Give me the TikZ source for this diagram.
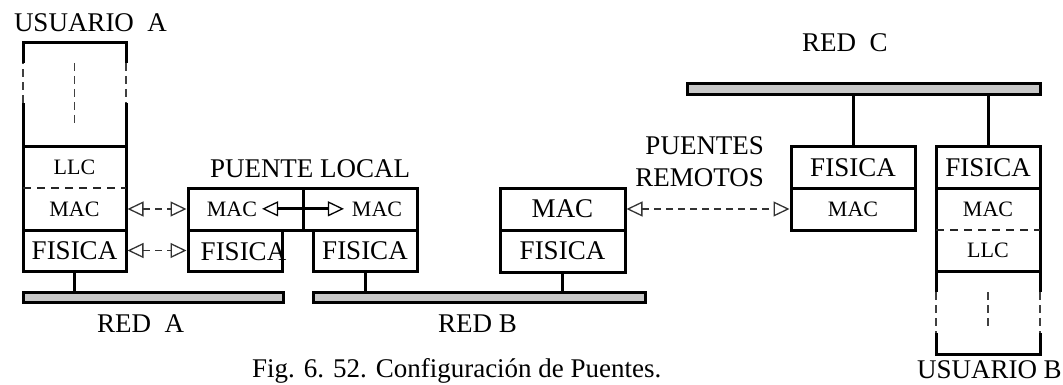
\documentclass[tikz,border=0pt]{standalone}
\usepackage{fontspec}
\setmainfont{Liberation Serif}
\usetikzlibrary{arrows.meta,calc}
\begin{document}
\begin{tikzpicture}[x=1pt,y=-1pt,
  fbig/.style={font=\fontsize{27}{32}\selectfont},
  fsmall/.style={font=\fontsize{22}{26}\selectfont},
  frameline/.style={line width=3pt},
  linkline/.style={line width=3pt},
  thinD/.style={line width=1.3pt, dash pattern=on 8pt off 5pt, black!75},
  sepD/.style={line width=1.4pt, dash pattern=on 8pt off 6pt, black!85},
  netbar/.style={draw, fill=black!22, line width=3pt, inner sep=0pt, outer sep=0pt},
  cell/.style={draw, line width=3pt, inner sep=0pt, outer sep=0pt},
  nd/.style={inner sep=0pt, outer sep=0pt},
  lbl/.style={inner sep=0pt, outer sep=0pt},
  dasharr/.style={line width=1.3pt, dash pattern=on 7pt off 5pt, black!80,
    {Triangle[open,length=16pt,width=15pt]}-{Triangle[open,length=16pt,width=15pt]},
    shorten <=1.5pt, shorten >=1.5pt},
  solidarr/.style={line width=3pt,
    {Triangle[open,length=16pt,width=15pt,line width=1.3pt]}-{Triangle[open,length=16pt,width=15pt,line width=1.3pt]}}
]
\useasboundingbox (0,0) rectangle (1063,385);

% ---------- User A ----------
\node[nd, minimum width=103, minimum height=104] (aApp) at (74.5,95) {};
\node[nd, fsmall, minimum width=103, minimum height=41] (aLLC) at (74.5,167.5) {LLC};
\node[nd, fsmall, minimum width=103, minimum height=42] (aMAC) at (74.5,209) {MAC};
\node[cell, fbig, minimum width=103, minimum height=41] (aFIS) at (74.5,250.5) {FISICA};
\draw[frameline] (aLLC.north west) rectangle (aMAC.south east);
\draw[sepD] (aMAC.north west) -- (aMAC.north east);
\draw[frameline] (aApp.south west) -- ($(aApp.south west)+(0,-44)$);
\draw[thinD] ($(aApp.south west)+(0,-44)$) -- ($(aApp.north west)+(0,20)$);
\draw[frameline] ($(aApp.north west)+(0,20)$) -- (aApp.north west) -- (aApp.north east) -- ($(aApp.north east)+(0,20)$);
\draw[thinD] ($(aApp.north east)+(0,20)$) -- ($(aApp.south east)+(0,-44)$);
\draw[frameline] ($(aApp.south east)+(0,-44)$) -- (aApp.south east);
\draw[thinD] ($(aApp.north)+(0,20)$) -- ($(aApp.north)+(0,84)$);
\node[lbl, fbig, anchor=base west] (uA) at (14,32) {USUARIO\ \ A};

% ---------- Puente local ----------
\node[cell, minimum width=115, minimum height=42] (pMACl) at (245.5,209) {};
\node[cell, minimum width=114, minimum height=42] (pMACr) at (360,209) {};
\node[cell, minimum width=94, minimum height=41] (pFISl) at (235,250.5) {};
\node[cell, fbig, minimum width=104, minimum height=41] (pFISr) at (365,250.5) {FISICA};
\node[lbl, fsmall, anchor=base] (pMACtl) at (232,216) {MAC};
\node[lbl, fsmall, anchor=base] (pMACtr) at (377,216) {MAC};
\node[lbl, fbig, anchor=base] (pFISlt) at (243.5,260) {FISICA};
\draw[solidarr] ($(pMACtl.east)+(5,0)$) -- ($(pMACtr.west)+(-8,0)$);
\node[lbl, fbig, anchor=base west] (pLocal) at (210,177) {PUENTE LOCAL};

% ---------- Red B bridge ----------
\node[cell, fbig, minimum width=125, minimum height=42] (rMAC) at (562.5,209) {MAC};
\node[cell, fbig, minimum width=125, minimum height=42] (rFIS) at (562.5,251) {FISICA};

% ---------- Red C bridge ----------
\node[cell, fbig, minimum width=124, minimum height=41] (cFIS) at (853,167.5) {FISICA};
\node[cell, fsmall, minimum width=124, minimum height=42] (cMAC) at (853,209) {MAC};
\node[lbl, fbig, align=right, anchor=east] (remotos) at (764,162) {PUENTES\\REMOTOS};

% ---------- User B ----------
\node[cell, fbig, minimum width=104, minimum height=41] (bFIS) at (988,167.5) {FISICA};
\node[nd, fsmall, minimum width=104, minimum height=42] (bMAC) at (988,209) {MAC};
\node[nd, fsmall, minimum width=104, minimum height=41] (bLLC) at (988,250.5) {LLC};
\node[nd, minimum width=104, minimum height=83] (bApp) at (988,312.5) {};
\draw[frameline] (bMAC.north west) rectangle (bLLC.south east);
\draw[sepD] (bLLC.north west) -- (bLLC.north east);
\draw[frameline] ($(bApp.north west)+(0,21)$) -- (bApp.north west);
\draw[frameline] ($(bApp.north east)+(0,21)$) -- (bApp.north east);
\draw[thinD] ($(bApp.north west)+(0,21)$) -- ($(bApp.south west)+(0,-21)$);
\draw[thinD] ($(bApp.north east)+(0,21)$) -- ($(bApp.south east)+(0,-21)$);
\draw[frameline] ($(bApp.south west)+(0,-21)$) -- (bApp.south west) -- (bApp.south east) -- ($(bApp.south east)+(0,-21)$);
\draw[thinD] ($(bApp.north)+(0,21)$) -- ($(bApp.north)+(0,59)$);
\node[lbl, fbig, anchor=base west] (uB) at (917,378) {USUARIO B};

% ---------- Networks ----------
\node[netbar, minimum width=260, minimum height=10] (barA) at (153,297) {};
\node[netbar, minimum width=332, minimum height=10] (barB) at (479,297) {};
\node[netbar, minimum width=353, minimum height=11] (barC) at (863.5,89.5) {};
\node[lbl, fbig, anchor=base west] (redA) at (97,332) {RED\ \ A};
\node[lbl, fbig, anchor=base west] (redB) at (438,332) {RED B};
\node[lbl, fbig, anchor=base west] (redC) at (802,52) {RED\ \ C};

% ---------- Attachments ----------
\draw[linkline] (aFIS.south) -- (aFIS.south |- barA.north);
\draw[linkline] ($(pFISl.south)+(-4,0)$) -- ($(pFISl.south)+(-4,0)$ |- barA.north);
\draw[linkline] (pFISr.south) -- (pFISr.south |- barB.north);
\draw[linkline] (rFIS.south) -- (rFIS.south |- barB.north);
\draw[linkline] (cFIS.north) -- (cFIS.north |- barC.south);
\draw[linkline] (bFIS.north) -- (bFIS.north |- barC.south);

% ---------- Peer arrows ----------
\draw[dasharr] (aMAC.east) -- (pMACl.west);
\draw[dasharr] (aFIS.east) -- (pFISl.west);
\draw[dasharr] (rMAC.east) -- (cMAC.west);

% ---------- Caption ----------
\node[lbl, fbig, anchor=base west] (cap) at (252,377) {Fig. 6. 52. Configuración de Puentes.};
\end{tikzpicture}
\end{document}
